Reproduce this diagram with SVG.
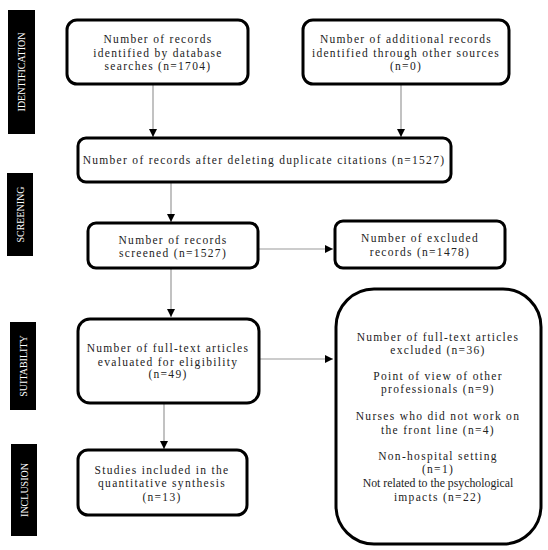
<svg xmlns="http://www.w3.org/2000/svg" width="548" height="550" viewBox="0 0 548 550">
<defs>
<marker id="ah" viewBox="0 0 10 10" refX="10" refY="5" markerWidth="8" markerHeight="8" markerUnits="userSpaceOnUse" orient="auto"><path d="M0,0 L10,5 L0,10 z" fill="#000"/></marker>
<style>
.box{fill:#fff;stroke:#000;stroke-width:3}
.t{font-family:"Liberation Serif","DejaVu Serif",serif;font-size:11.5px;letter-spacing:1.3px;fill:#222;text-anchor:middle}
.t2{font-family:"Liberation Serif","DejaVu Serif",serif;font-size:11.8px;fill:#222;text-anchor:middle}
.side{fill:#000}
.st{font-family:"Liberation Serif","DejaVu Serif",serif;font-size:10px;fill:#fff;text-anchor:middle}
.c{stroke:#999;stroke-width:1.2;fill:none;marker-end:url(#ah)}
</style>
</defs>
<rect width="548" height="550" fill="#fff"/>
<g id="side-identification"><rect class="side" x="8" y="10" width="27" height="124"/><text class="st" transform="translate(25,72) rotate(-90)">IDENTIFICATION</text></g>
<g id="side-screening"><rect class="side" x="7" y="173" width="26" height="83"/><text class="st" transform="translate(24,214.5) rotate(-90)">SCREENING</text></g>
<g id="side-suitability"><rect class="side" x="10" y="322" width="26" height="88"/><text class="st" transform="translate(27,366) rotate(-90)">SUITABILITY</text></g>
<g id="side-inclusion"><rect class="side" x="11" y="444" width="26" height="92"/><text class="st" transform="translate(28,490) rotate(-90)">INCLUSION</text></g>
<g id="connectors">
<line class="c" x1="153" y1="85" x2="153" y2="137"/>
<line class="c" x1="401" y1="85" x2="401" y2="137"/>
<line class="c" x1="171" y1="183" x2="171" y2="222"/>
<line class="c" x1="258" y1="249" x2="333" y2="249"/>
<line class="c" x1="171" y1="269" x2="171" y2="317"/>
<line class="c" x1="259" y1="359" x2="333" y2="359"/>
<line class="c" x1="164" y1="399" x2="164" y2="449"/>
</g>
<g id="n1"><rect class="box" x="67" y="20" width="181" height="64" rx="10"/><text class="t" x="158" y="43">Number of records</text><text class="t" x="158" y="57">identified by database</text><text class="t" x="158" y="70">searches (n=1704)</text></g>
<g id="n2"><rect class="box" x="303" y="20" width="206" height="64" rx="10"/><text class="t" x="406" y="43">Number of additional records</text><text class="t" x="406" y="57">identified through other sources</text><text class="t" x="406" y="70">(n=0)</text></g>
<g id="n3"><rect class="box" x="78" y="138" width="373" height="44" rx="8"/><text class="t" x="264" y="164">Number of records after deleting duplicate citations (n=1527)</text></g>
<g id="n4"><rect class="box" x="88" y="223" width="170" height="45" rx="8"/><text class="t" x="173" y="244">Number of records</text><text class="t" x="173" y="257">screened (n=1527)</text></g>
<g id="n5"><rect class="box" x="335" y="221" width="170" height="47" rx="8"/><text class="t" x="420" y="242">Number of excluded</text><text class="t" x="420" y="256">records (n=1478)</text></g>
<g id="n6"><rect class="box" x="78" y="319" width="181" height="84" rx="12"/><text class="t" x="168" y="352">Number of full-text articles</text><text class="t" x="168" y="366">evaluated for eligibility</text><text class="t" x="168" y="378">(n=49)</text></g>
<g id="n7"><rect class="box" x="336" y="289" width="205" height="255" rx="38"/>
<text class="t" x="438" y="341">Number of full-text articles</text><text class="t" x="438" y="354">excluded (n=36)</text>
<text class="t" x="438" y="380">Point of view of other</text><text class="t" x="438" y="393">professionals (n=9)</text>
<text class="t" x="438" y="420">Nurses who did not work on</text><text class="t" x="438" y="434">the front line (n=4)</text>
<text class="t" x="438" y="460">Non-hospital setting</text><text class="t" x="438" y="473">(n=1)</text>
<text class="t2" x="438" y="487">Not related to the psychological</text><text class="t" x="438" y="501">impacts (n=22)</text></g>
<g id="n8"><rect class="box" x="78" y="450" width="169" height="65" rx="10"/><text class="t" x="162" y="474">Studies included in the</text><text class="t" x="162" y="487">quantitative synthesis</text><text class="t" x="162" y="501">(n=13)</text></g>
</svg>
